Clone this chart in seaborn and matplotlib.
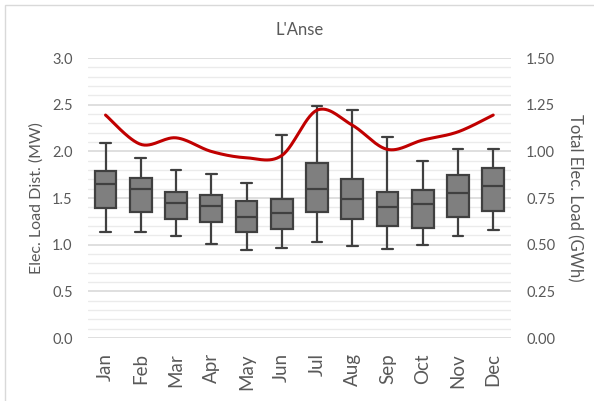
import numpy as np
import pandas as pd
import seaborn as sns
import matplotlib.pyplot as plt
from matplotlib.patches import Rectangle
from matplotlib.ticker import MultipleLocator, FormatStrFormatter

# Dane
months = ['Jan', 'Feb', 'Mar', 'Apr', 'May', 'Jun',
          'Jul', 'Aug', 'Sep', 'Oct', 'Nov', 'Dec']
# min, Q1, mediana, Q3, max (MW)
low = [1.14, 1.14, 1.09, 1.01, 0.94, 0.96, 1.03, 0.99, 0.95, 1.00, 1.09, 1.16]
q1 = [1.39, 1.35, 1.28, 1.24, 1.14, 1.17, 1.35, 1.28, 1.20, 1.18, 1.30, 1.36]
med = [1.65, 1.60, 1.45, 1.41, 1.30, 1.34, 1.60, 1.49, 1.40, 1.44, 1.55, 1.63]
q3 = [1.79, 1.72, 1.57, 1.53, 1.47, 1.49, 1.88, 1.71, 1.57, 1.59, 1.75, 1.82]
high = [2.09, 1.93, 1.80, 1.76, 1.66, 2.18, 2.49, 2.44, 2.15, 1.90, 2.03, 2.03]
# suma miesięczna (GWh)
total = [1.195, 1.038, 1.073, 1.000, 0.966, 0.978,
         1.221, 1.141, 1.011, 1.061, 1.105, 1.195]

# 5 punktów na miesiąc -> kwartyle dokładnie takie jak odczytane
rows = []
for i, m in enumerate(months):
    for v in (low[i], q1[i], med[i], q3[i], high[i]):
        rows.append({'Month': m, 'Load': v})
df = pd.DataFrame(rows)

sns.set_style('white')
plt.rcParams['font.family'] = ['Lato', 'DejaVu Sans']
txt = '#595959'

fig = plt.figure(figsize=(5.94, 4.01), dpi=100)
ax = fig.add_axes([0.148, 0.157, 0.712, 0.698])

sns.boxplot(data=df, x='Month', y='Load', order=months, whis=(0, 100),
            width=0.62, color='#7f7f7f', saturation=1, linewidth=1.6,
            linecolor='#404040', showfliers=False, ax=ax)

ax.set_ylim(0, 3.0)
ax.set_xlim(-0.5, 11.5)
ax.yaxis.set_major_locator(MultipleLocator(0.5))
ax.yaxis.set_minor_locator(MultipleLocator(0.1))
ax.yaxis.set_major_formatter(FormatStrFormatter('%.1f'))
ax.grid(axis='y', which='major', color='#d9d9d9', lw=1.2)
ax.grid(axis='y', which='minor', color='#ebebeb', lw=1.0)
ax.set_axisbelow(True)
for s in ax.spines.values():
    s.set_visible(False)
ax.tick_params(axis='y', which='both', length=0, pad=11, labelsize=10.5,
               labelcolor=txt)
ax.tick_params(axis='x', length=0, pad=11, labelsize=13.5, labelcolor=txt,
               rotation=90)
ax.set_xlabel('')
ax.set_ylabel('Elec. Load Dist. (MW)', fontsize=11.5, color=txt, labelpad=6)
ax.set_title("L'Anse", fontsize=12, color=txt, pad=17)

# druga oś - wygładzona linia (jak w Excelu)
ax2 = ax.twinx()
ax2.set_ylim(0, 1.5)
ax2.yaxis.set_major_locator(MultipleLocator(0.25))
ax2.yaxis.set_major_formatter(FormatStrFormatter('%.2f'))
for s in ax2.spines.values():
    s.set_visible(False)
ax2.tick_params(axis='y', length=0, pad=11, labelsize=10.5, labelcolor=txt)
ax2.set_ylabel('Total Elec. Load (GWh)', fontsize=12, color=txt,
               rotation=270, labelpad=20)

x = np.arange(len(months), dtype=float)
y = np.array(total)
px = np.concatenate([[x[0]], x, [x[-1]]])
py = np.concatenate([[y[0]], y, [y[-1]]])
xs, ys = [], []
t = np.linspace(0, 1, 30)
for i in range(1, len(px) - 2):
    p0, p1, p2, p3 = py[i - 1], py[i], py[i + 1], py[i + 2]
    q0, q1_, q2, q3_ = px[i - 1], px[i], px[i + 1], px[i + 2]
    for arr, a0, a1, a2, a3 in ((ys, p0, p1, p2, p3), (xs, q0, q1_, q2, q3_)):
        arr.extend(0.5 * ((2 * a1) + (-a0 + a2) * t
                          + (2 * a0 - 5 * a1 + 4 * a2 - a3) * t ** 2
                          + (-a0 + 3 * a1 - 3 * a2 + a3) * t ** 3))
sns.lineplot(x=xs, y=ys, color='#c00000', lw=2.2, sort=False, ax=ax2)
ax2.set_xlim(-0.5, 11.5)

fig.patches.append(Rectangle((5 / 594, -0.1), 1.2, 1.1 - 5 / 401,
                             transform=fig.transFigure, fill=False,
                             ec='#d9d9d9', lw=1))

fig.savefig('out.png', dpi=100)
